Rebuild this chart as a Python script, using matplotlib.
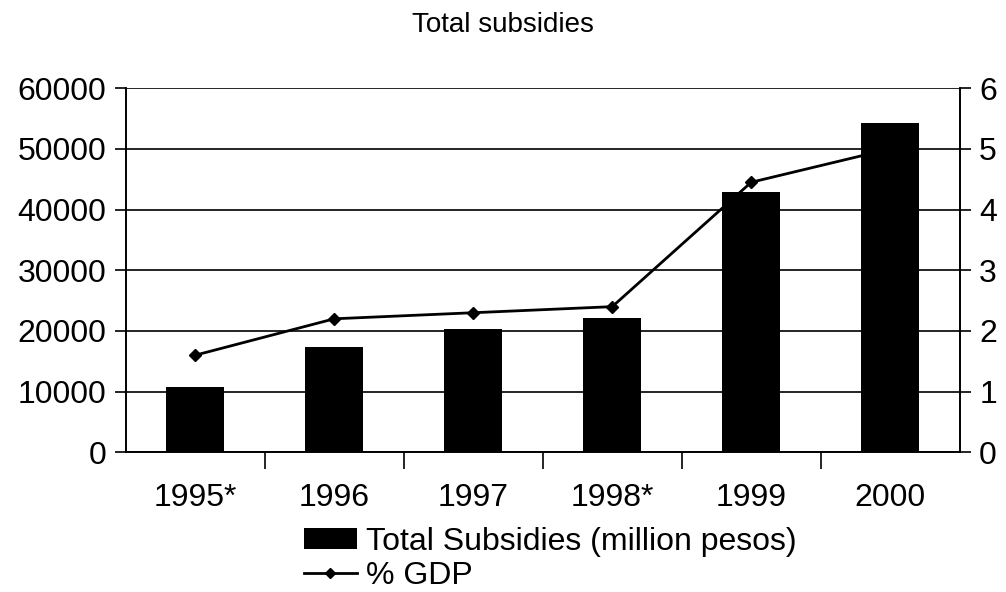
import matplotlib.pyplot as plt
import numpy as np

plt.rcParams['font.family'] = ['Liberation Sans', 'DejaVu Sans']

years = ['1995*', '1996', '1997', '1998*', '1999', '2000']
subsidies = [10700, 17400, 20400, 22100, 42900, 54200]
pct_gdp = [1.6, 2.2, 2.3, 2.4, 4.45, 5.0]

fig = plt.figure(figsize=(10.06, 5.92), dpi=100)
ax = fig.add_axes([0.125, 0.236, 0.829, 0.615])
ax2 = ax.twinx()

x = np.arange(len(years))

# line sits behind the bars
ax.set_zorder(ax2.get_zorder() + 1)
ax.patch.set_visible(False)

bars = ax.bar(x, subsidies, width=0.42, color='black', zorder=3,
              label='Total Subsidies (million pesos)')
line, = ax2.plot(x, pct_gdp, color='black', lw=2, marker='D', ms=6,
                 label='% GDP')

ax.set_xlim(-0.5, len(years) - 0.5)
ax.set_ylim(0, 60000)
ax2.set_ylim(0, 6)
ax.set_yticks(np.arange(0, 60001, 10000))
ax2.set_yticks(np.arange(0, 7, 1))
ax.yaxis.grid(True, color='black', lw=1.2, zorder=0)

ax.set_xticks(x)
ax.set_xticklabels(years)
ax.set_xticks(np.arange(0.5, len(years) - 0.5, 1), minor=True)
ax.tick_params(axis='x', which='major', length=0, pad=22, labelsize=23)
ax.tick_params(axis='x', which='minor', length=12, width=1.2, direction='out')
ax.tick_params(axis='y', labelsize=23, length=8, width=1.2, pad=6)
ax2.tick_params(axis='y', labelsize=23, length=8, width=1.2, pad=6)

for a in (ax, ax2):
    a.spines['top'].set_visible(False)
    for s in ('left', 'right', 'bottom'):
        a.spines[s].set_linewidth(1.2)

fig.text(0.5, 0.958, 'Total subsidies', ha='center', va='center', fontsize=20)

fig.legend([bars, line], ['Total Subsidies (million pesos)', '% GDP'],
           loc='upper left', bbox_to_anchor=(0.302, 0.11), frameon=False,
           fontsize=23, handlelength=1.66, handleheight=0.6, handletextpad=0.3,
           labelspacing=0.12, borderpad=0, borderaxespad=0, markerscale=0.8)

fig.savefig('out.png', dpi=100)
